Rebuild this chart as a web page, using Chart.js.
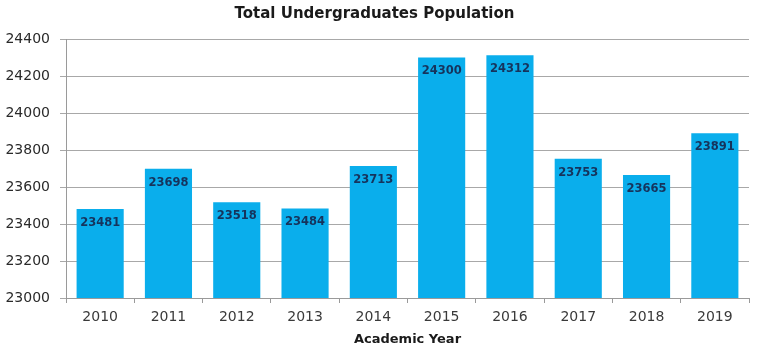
<!DOCTYPE html>
<html>
<head>
<meta charset="utf-8">
<script src="https://cdn.jsdelivr.net/npm/chart.js@4/dist/chart.umd.min.js"></script>
<style>
  html, body { margin: 0; padding: 0; background: #fff; }
  #wrap { width: 763px; height: 351px; }
</style>
</head>
<body>
<div id="wrap"><canvas id="chart" width="763" height="351"></canvas></div>
<script>
// Data
const years = ['2010', '2011', '2012', '2013', '2014', '2015', '2016', '2017', '2018', '2019'];
const students = [23481, 23698, 23518, 23484, 23713, 24300, 24312, 23753, 23665, 23891];
const yTicks = [23000, 23200, 23400, 23600, 23800, 24000, 24200, 24400];

// Custom plugin to draw the value just inside the top of each bar
const barValueLabels = {
  id: 'barValueLabels',
  afterDatasetsDraw(chart) {
    const ctx = chart.ctx;
    const meta = chart.getDatasetMeta(0);
    ctx.save();
    ctx.font = 'bold 11.5px "DejaVu Sans"';
    ctx.fillStyle = '#16335c';
    ctx.textAlign = 'center';
    ctx.textBaseline = 'middle';
    meta.data.forEach((bar, i) => {
      ctx.fillText(String(students[i]), bar.x, bar.y + 14);
    });
    ctx.restore();
  },
};

const ctx = document.getElementById('chart').getContext('2d');
new Chart(ctx, {
  type: 'bar',
  data: {
    labels: years,
    datasets: [
      {
        label: 'Total Undergraduates',
        data: students,
        backgroundColor: '#0aaeec',
        borderWidth: 0,
        categoryPercentage: 1,
        barPercentage: 0.69,
      },
    ],
  },
  options: {
    responsive: false,
    animation: false,
    layout: { padding: { left: 0, right: 14, top: 0, bottom: 0 } },
    plugins: {
      legend: { display: false },
      tooltip: { enabled: false },
      title: {
        display: true,
        text: 'Total Undergraduates Population',
        color: '#1a1a1a',
        font: { family: 'DejaVu Sans', size: 15, weight: 'bold' },
        padding: { top: 5, bottom: 16 },
      },
    },
    scales: {
      x: {
        grid: {
          display: true,
          drawOnChartArea: false,
          offset: true,
          tickLength: 5,
          color: '#9a9a9a',
        },
        border: { display: true, color: '#9a9a9a' },
        ticks: {
          color: '#3a3a3a',
          padding: 6,
          font: { family: 'DejaVu Sans', size: 14 },
        },
        title: {
          display: true,
          text: 'Academic Year',
          color: '#1a1a1a',
          font: { family: 'DejaVu Sans', size: 13, weight: 'bold' },
          padding: { top: 4, bottom: 4 },
        },
        afterFit(scale) {
          scale.height = 53;
        },
      },
      y: {
        min: 23000,
        max: 24400,
        afterBuildTicks(scale) {
          scale.ticks = yTicks.map((v) => ({ value: v }));
        },
        grid: { color: '#a8a8a8', tickLength: 6 },
        border: { display: true, color: '#9a9a9a' },
        ticks: {
          color: '#2a2a2a',
          padding: 10,
          font: { family: 'DejaVu Sans', size: 14 },
          callback: (v) => String(v),
        },
        afterFit(scale) {
          scale.width = 66;
        },
      },
    },
  },
  plugins: [barValueLabels],
});
</script>
</body>
</html>
